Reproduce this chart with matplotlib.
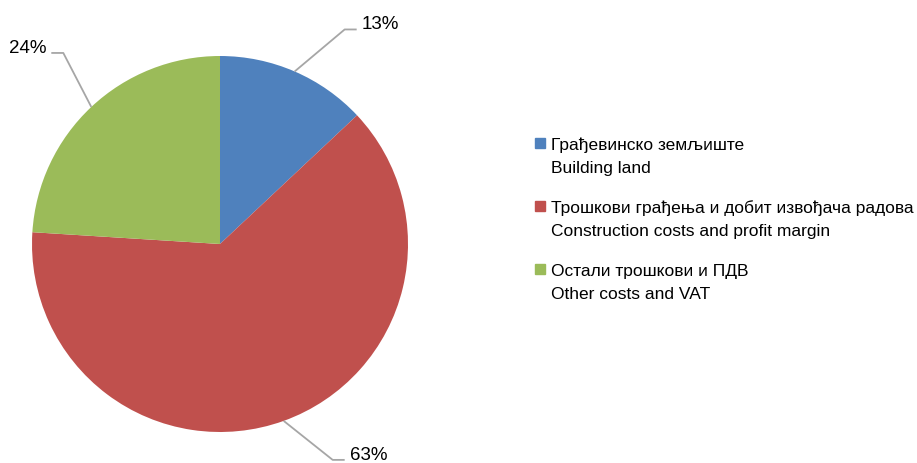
import numpy as np
import matplotlib.pyplot as plt
from matplotlib.patches import Rectangle

# shares of the price, clockwise from the top
shares = [13, 63, 24]
pct_labels = ['13%', '63%', '24%']
names_sr = ['Грађевинско земљиште',
            'Трошкови грађења и добит извођача радова',
            'Остали трошкови и ПДВ']
names_en = ['Building land',
            'Construction costs and profit margin',
            'Other costs and VAT']
colors = ['#4f81bd', '#c0504d', '#9bbb59']

W, H = 917, 464
cx, cy, r = 220, H - 245, 188
fonts = ['Liberation Sans Narrow', 'Liberation Sans', 'DejaVu Sans']

fig = plt.figure(figsize=(W / 100, H / 100), dpi=100)
ax = fig.add_axes([0, 0, 1, 1])
wedges, _ = ax.pie(shares, colors=colors, startangle=90, counterclock=False,
                   center=(cx, cy), radius=r, frame=True)
ax.set_xlim(0, W)
ax.set_ylim(0, H)
ax.set_aspect('equal')
ax.axis('off')

# leader line elbows (dx, dy from the rim point)
elbows = [(50, 42), (49, -39), (-28, 54)]
for w, lab, (dx, dy) in zip(wedges, pct_labels, elbows):
    mid = np.deg2rad((w.theta1 + w.theta2) / 2)
    x0, y0 = cx + r * np.cos(mid), cy + r * np.sin(mid)
    x1, y1 = x0 + dx, y0 + dy
    s = 1 if dx > 0 else -1
    x2 = x1 + 12 * s
    ax.plot([x0, x1, x2], [y0, y1, y1], color='#a6a6a6', lw=1.3,
            solid_capstyle='butt')
    ax.text(x2 + 5 * s, y1 + 1, lab, ha='left' if s > 0 else 'right',
            va='baseline', fontsize=13.5, family=fonts, color='black')

# legend
for i in range(len(shares)):
    base = H - 150 - 63 * i
    ax.add_patch(Rectangle((535, base + 1), 10, 10, color=colors[i]))
    ax.text(551, base, names_sr[i], fontsize=12.5, family=fonts,
            va='baseline', ha='left')
    ax.text(551, base - 23, names_en[i], fontsize=12.5, family=fonts,
            va='baseline', ha='left')

plt.savefig('out.png', dpi=100)
